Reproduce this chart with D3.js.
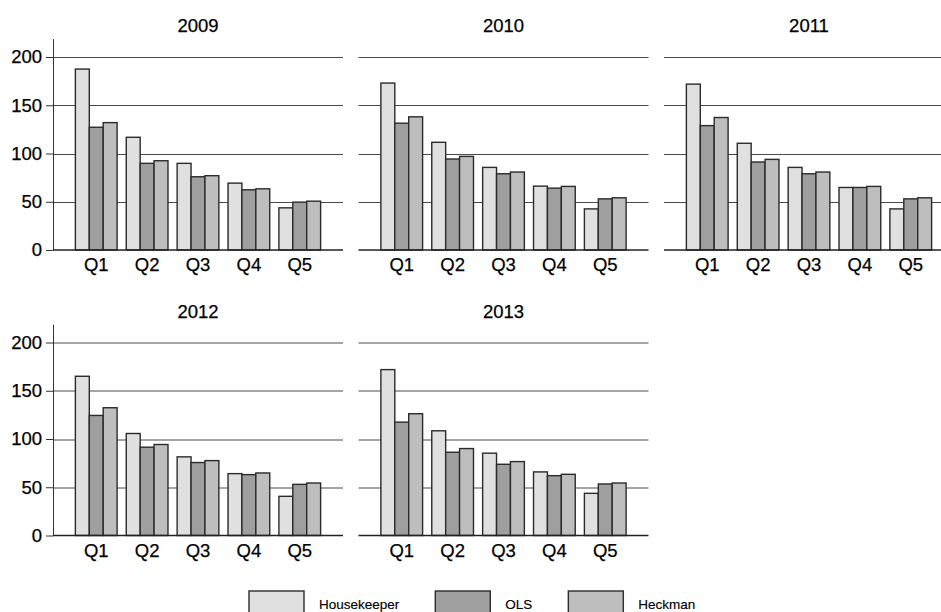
<!DOCTYPE html>
<html>
<head>
  <meta charset="UTF-8">
  <title>Quintile estimates by year</title>
  <style>
    body { margin: 0; background: #fff; }
    text { font-family: "Liberation Sans", Arial, Helvetica, sans-serif; fill: #000; stroke: #000; stroke-width: 0.25px; }
  </style>
</head>
<body>
  <div id="chart"></div>
  <script src="https://d3js.org/d3.v7.min.js"></script>
  <script>
    /// data

    var years = ["2009", "2010", "2011", "2012", "2013"];
    var quintiles = ["Q1", "Q2", "Q3", "Q4", "Q5"];
    var methods = ["Housekeeper", "OLS", "Heckman"];
    var yTicks = [0, 50, 100, 150, 200];

    // one row per year, one value per quintile
    var housekeeper = [
      [187.5, 116.8, 89.8, 69.3, 43.7],
      [173.0, 111.6, 85.6, 66.2, 42.6],
      [171.9, 110.6, 85.6, 64.8, 42.6],
      [165.0, 105.7, 81.5, 64.1, 40.6],
      [171.9, 108.5, 85.3, 65.9, 43.7]
    ];
    var ols = [
      [127.2, 89.8, 75.9, 62.4, 49.6],
      [131.4, 94.3, 79.0, 64.1, 53.0],
      [128.9, 91.2, 79.0, 64.8, 53.0],
      [124.4, 91.5, 75.6, 63.1, 53.0],
      [117.5, 86.3, 73.8, 62.0, 53.4]
    ];
    var heckman = [
      [132.0, 92.5, 77.0, 63.4, 50.6],
      [138.0, 97.0, 80.8, 65.9, 54.1],
      [137.3, 93.9, 80.8, 65.9, 54.1],
      [132.4, 94.3, 77.6, 64.8, 54.4],
      [126.2, 90.1, 76.6, 63.4, 54.4]
    ];

    var series = [housekeeper, ols, heckman];
    var fills = ["#e0e0e0", "#9f9f9f", "#bebebe"];

    /// layout

    var width = 941, height = 612;
    var plotW = 290, plotH = 193;
    var colStep = 305.5, rowStep = 285.5;
    var left0 = 53, top0 = 57;
    var fontSize = "18.5px";

    var svg = d3.select("#chart").append("svg")
        .attr("width", width)
        .attr("height", height);

    var x = d3.scaleBand()
        .domain(quintiles)
        .range([0, plotW])
        .paddingInner(0.18)
        .paddingOuter(0.44);

    var xSub = d3.scaleBand()
        .domain(methods)
        .range([0, x.bandwidth()]);

    var y = d3.scaleLinear().domain([0, 200]).range([plotH, 0]);

    years.forEach(function(year, i) {
      var col = i % 3, row = Math.floor(i / 3);
      var g = svg.append("g")
          .attr("transform", "translate(" + (left0 + col * colStep) + "," + (top0 + row * rowStep) + ")");

      // title
      g.append("text")
          .attr("x", plotW / 2)
          .attr("y", -25)
          .attr("text-anchor", "middle")
          .style("font-size", fontSize)
          .text(year);

      // grid lines
      g.append("g")
        .selectAll("line")
        .data(yTicks.filter(function(t) { return t > 0; }))
        .enter().append("line")
          .attr("x1", 0)
          .attr("x2", plotW)
          .attr("y1", function(d) { return Math.round(y(d)) + 0.5; })
          .attr("y2", function(d) { return Math.round(y(d)) + 0.5; })
          .attr("stroke", "#4a4a4a")
          .attr("stroke-width", 1);

      // y axis only on first column
      if (col === 0) {
        var yAxis = d3.axisLeft(y).tickValues(yTicks).tickSize(7).tickPadding(4);
        var ya = g.append("g").call(yAxis);
        ya.select(".domain").remove();
        ya.selectAll("line").attr("stroke", "#333");
        ya.selectAll("text")
          .style("font-size", fontSize)
          .style("font-family", "'Liberation Sans', Arial, sans-serif")
          .attr("fill", "#000");
        g.append("line")
          .attr("x1", 0.5).attr("x2", 0.5)
          .attr("y1", y(218.5)).attr("y2", plotH)
          .attr("stroke", "#333");
      }

      // bars
      var groups = g.append("g")
        .selectAll("g")
        .data(quintiles)
        .enter().append("g")
          .attr("transform", function(q) { return "translate(" + x(q) + ",0)"; });

      groups.selectAll("rect")
        .data(function(q, qi) {
          return methods.map(function(m, mi) {
            return { method: m, value: series[mi][i][qi], fill: fills[mi] };
          });
        })
        .enter().append("rect")
          .attr("x", function(d) { return xSub(d.method); })
          .attr("width", xSub.bandwidth())
          .attr("y", function(d) { return y(d.value); })
          .attr("height", function(d) { return plotH - y(d.value); })
          .attr("fill", function(d) { return d.fill; })
          .attr("stroke", "#2b2b2b")
          .attr("stroke-width", 1.4);

      // zero line
      g.append("line")
          .attr("x1", 0).attr("x2", plotW)
          .attr("y1", plotH).attr("y2", plotH)
          .attr("stroke", "#222")
          .attr("stroke-width", 1.4);

      // x labels
      var xAxis = d3.axisBottom(x).tickSize(0).tickPadding(8);
      var xa = g.append("g")
          .attr("transform", "translate(0," + plotH + ")")
          .call(xAxis);
      xa.select(".domain").remove();
      xa.selectAll("text")
        .style("font-size", fontSize)
        .style("font-family", "'Liberation Sans', Arial, sans-serif")
        .attr("fill", "#000");
    });

    // legend
    var legend = svg.append("g").attr("transform", "translate(249,591)");
    var lx = 0;
    methods.forEach(function(m, mi) {
      legend.append("rect")
          .attr("x", lx)
          .attr("y", 0)
          .attr("width", 55)
          .attr("height", 28)
          .attr("fill", fills[mi])
          .attr("stroke", "#2b2b2b")
          .attr("stroke-width", 1.4);
      var t = legend.append("text")
          .attr("x", lx + 70)
          .attr("y", 18)
          .style("font-size", "13.5px")
          .style("stroke-width", "0.15px")
          .text(m);
      lx = lx + 70 + t.node().getComputedTextLength() + 36;
    });
  </script>
</body>
</html>
